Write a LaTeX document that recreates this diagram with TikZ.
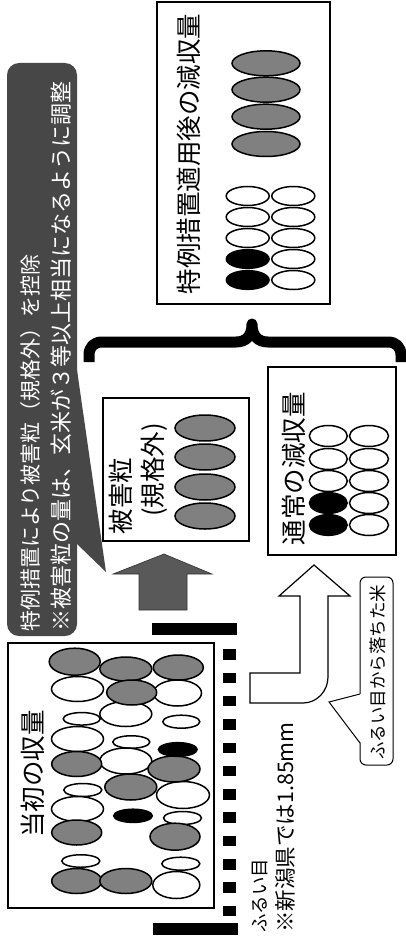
\documentclass[tikz,border=0pt]{standalone}
\usepackage{fontspec}
\setmainfont{Noto Sans CJK JP}
\newcommand{\grain}[5]{\draw[#1] (#2,-#3) ellipse [x radius=#4/2, y radius=#5/2];}
\begin{document}
\begin{tikzpicture}[x=1pt,y=1pt,
  gr/.style={draw=black,line width=1.5,fill=black!50},
  wh/.style={draw=black,line width=1.5,fill=white},
  bk/.style={draw=black,line width=1.2,fill=black},
  box/.style={draw=black,line width=1.3,fill=white,inner sep=0pt},
  vt/.style={rotate=90,inner sep=0pt},
  big/.style={font=\fontsize{25.5}{30}\selectfont},
  ]
\useasboundingbox[fill=white] (0,0) rectangle (406,-944);

% ---------- top-right box ----------
\node[box, minimum width=173pt, minimum height=302pt] (after) at (243.5,-153) {};
\node[vt, big] (aftert) at (189,-154) {特例措置適用後の減収量};
\foreach \y in {63.3,89.7,116.7,144}{\grain{gr}{266}{\y}{68}{25}}
\foreach \y [count=\i] in {196,217,238,259,280}{
  \ifnum\i>3 \grain{bk}{247.7}{\y}{43}{19}\else\grain{wh}{247.7}{\y}{43}{19}\fi
  \grain{wh}{293.3}{\y}{43}{19}}

% ---------- dark callout ----------
\fill[black!72] (76,-363) -- (106,-572) -- (76,-543) -- cycle;
\fill[black!72, rounded corners=12] (7,-63) rectangle (77,-636);
\node[vt, anchor=west, text=white, font=\fontsize{21}{25}\selectfont] (c1) at (31,-632) {特例措置により被害粒（規格外）を控除};
\node[vt, anchor=west, text=white, font=\fontsize{22}{26}\selectfont] (c2) at (61,-632) {※被害粒の量は、玄米が３等以上相当になるように調整};

% ---------- brace ----------
\draw[line width=11, line join=round] (89,-362) -- (89,-355)
  .. controls (89,-347) and (94,-342) .. (102,-342) -- (236,-342)
  .. controls (246,-342) and (252,-336) .. (252,-324)
  .. controls (252,-336) and (258,-342) .. (268,-342) -- (388,-342)
  .. controls (396,-342) and (401,-347) .. (401,-355) -- (401,-362);

% ---------- damaged grains box ----------
\node[box, minimum width=146pt, minimum height=143pt] (dmg) at (176,-469.5) {};
\node[vt, big] (dmgt1) at (121,-496) {被害粒};
\node[vt, big] (dmgt2) at (154,-470) {(規格外)};
\foreach \y in {428,457,487,516}{\grain{gr}{205}{\y}{60}{26}}

% ---------- normal loss box ----------
\node[box, minimum width=128pt, minimum height=188pt] (norm) at (332,-461) {};
\node[vt, big] (normt) at (294,-468.5) {通常の減収量};
\foreach \y [count=\i] in {436,459,481,503,525}{
  \ifnum\i>3 \grain{bk}{328.3}{\y}{38}{21}\else\grain{wh}{328.3}{\y}{38}{21}\fi
  \grain{wh}{369}{\y}{39}{21}}

% ---------- gray up arrow ----------
\filldraw[fill=black!65, draw=black!80, line width=0.6] (164,-554) -- (212,-574) -- (187,-574) -- (187,-610)
  -- (139,-610) -- (139,-574) -- (113,-574) -- cycle;

% ---------- screen ----------
\fill (152,-623) rectangle (237,-635);
\foreach \k in {0,...,11}{\fill (223,{-649.3-23.3*\k}) rectangle (236,{-659.8-23.3*\k});}
\fill (153,-923) rectangle (238,-935);

% ---------- initial harvest box ----------
\node[box, minimum width=206pt, minimum height=265pt] (init) at (111,-775.5) {};
\node[vt, big] (initt) at (33,-774) {当初の収量};
% white grains
\grain{wh}{77.5}{689}{52}{25}
\grain{wh}{81.7}{718.8}{37}{12.5}
\grain{wh}{77.5}{739}{52}{25}
\grain{wh}{82.8}{790}{38}{13}
\grain{wh}{77.5}{809}{52}{25}
\grain{wh}{80.8}{861}{38}{12.5}
\grain{wh}{125.8}{714}{52}{25}
\grain{wh}{131.3}{742}{37}{12.5}
\grain{wh}{125.8}{761}{52}{26}
\grain{wh}{177.5}{693}{48}{26}
\grain{wh}{181.3}{721.7}{37}{13}
\grain{wh}{183}{795}{53}{27}
\grain{wh}{182.5}{818}{38}{13}
\grain{wh}{180.8}{863.7}{38}{13}
\grain{wh}{176.3}{885}{47}{27}
% gray grains
\grain{gr}{74.7}{661.7}{51}{27}
\grain{gr}{76.7}{764}{50}{25}
\grain{gr}{76.7}{832.5}{50}{25}
\grain{gr}{76.7}{881}{50}{25}
\grain{gr}{178.3}{667.5}{50}{25}
\grain{gr}{174}{769}{52}{26}
\grain{gr}{175}{836.7}{50}{27}
\grain{gr}{125.8}{669}{52}{24}
\grain{gr}{131.7}{692.5}{50}{25}
\grain{gr}{130.8}{787}{52}{26}
\grain{gr}{125.8}{881}{52}{25}
% black grains
\grain{bk}{133}{815.8}{39}{13.5}
\grain{bk}{177.8}{749.5}{39}{14}

% ---------- screen labels ----------
\node[vt, anchor=west, font=\fontsize{18.5}{22}\selectfont] (sl1) at (260,-933) {ふるい目};
\node[vt, anchor=west, font=\fontsize{21.5}{25}\selectfont] (sl2) at (285,-933) {※新潟県では1.85mm};

% ---------- hollow L arrow ----------
\draw[fill=white, line width=1.2, line join=miter] (250,-673) -- (300,-673) -- (300,-596) -- (279,-596)
  -- (314,-565) -- (350,-596) -- (328,-596) -- (328,-677)
  .. controls (328,-691) and (317,-703) .. (303,-703) -- (250,-703) -- cycle;

% ---------- small callout ----------
\draw[fill=white, line width=1, rounded corners=6] (360,-577) rectangle (393,-765);
\fill[white] (361,-694) -- (329,-702) -- (361,-743) -- cycle;
\draw[line width=1] (360,-694) -- (329,-702) -- (360,-743);
\node[vt, font=\fontsize{17.5}{21}\selectfont] (fall) at (378,-672) {ふるい目から落ちた米};
\end{tikzpicture}
\end{document}
